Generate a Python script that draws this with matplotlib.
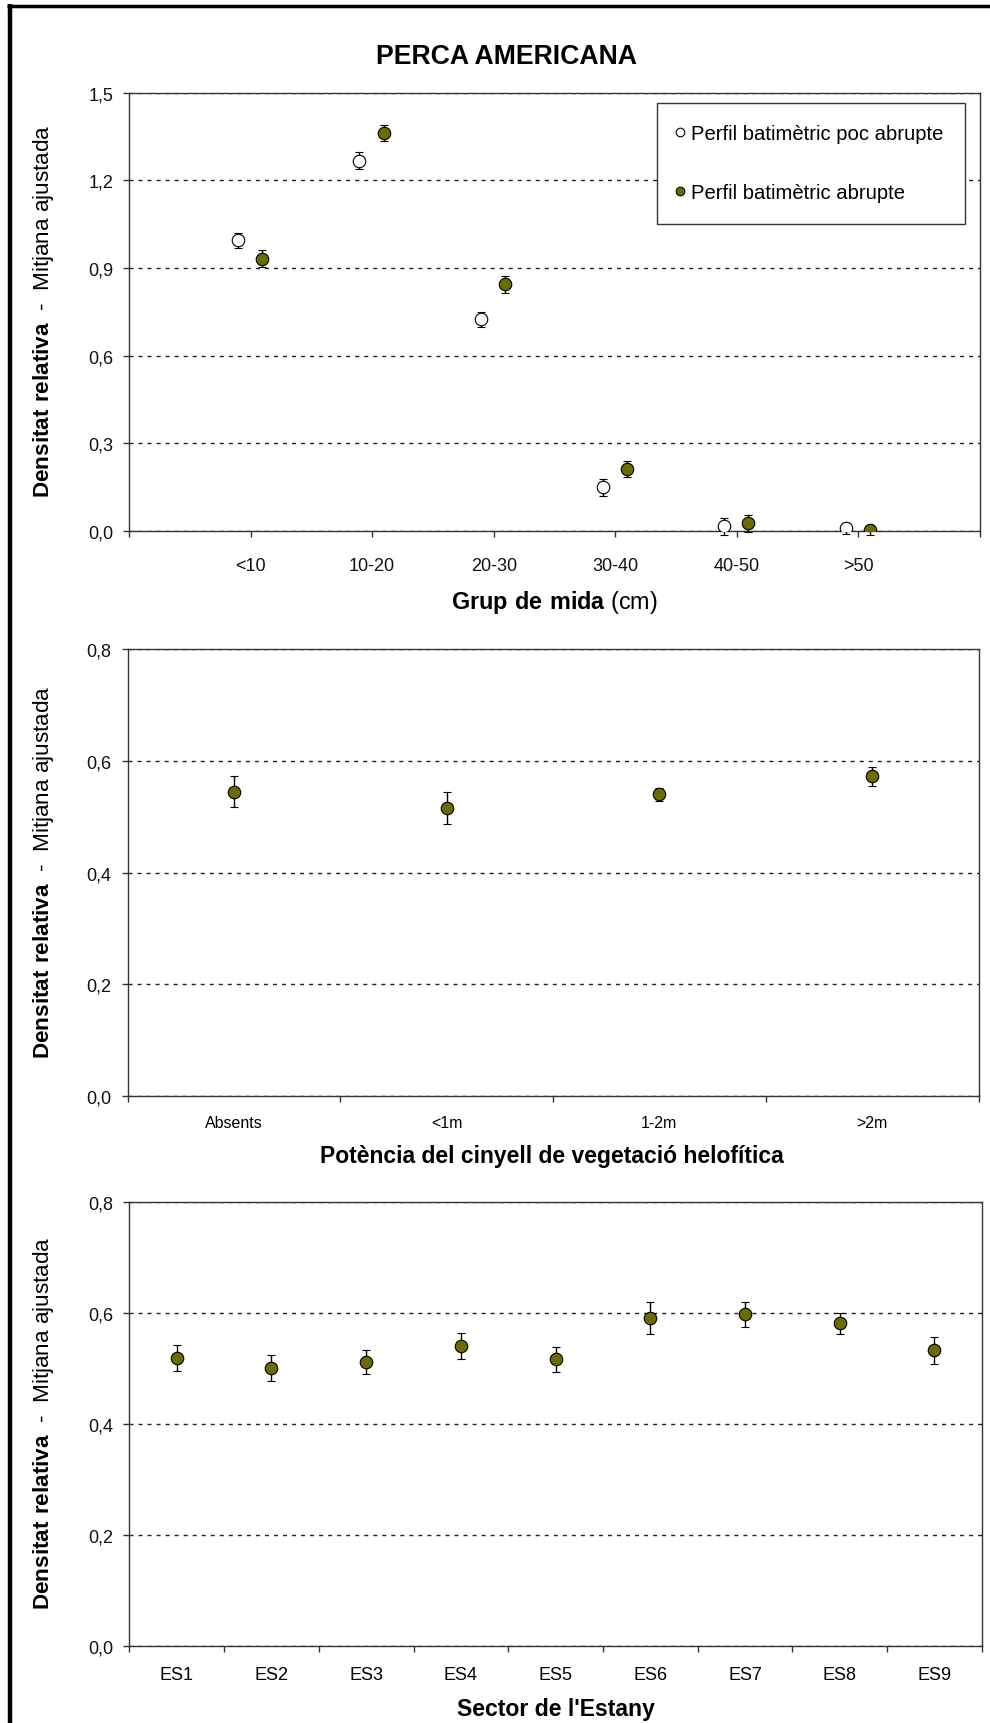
import matplotlib
matplotlib.use('Agg')
import matplotlib.pyplot as plt
from matplotlib.lines import Line2D
import numpy as np

plt.rcParams['font.family'] = ['Liberation Sans', 'DejaVu Sans']
plt.rcParams['mathtext.fontset'] = 'custom'
plt.rcParams['mathtext.rm'] = 'Liberation Sans'
plt.rcParams['mathtext.bf'] = 'Liberation Sans:bold'

# ---------------- data ----------------
size_groups = ['<10', '10-20', '20-30', '30-40', '40-50', '>50']
poc_abrupte = [0.995, 1.267, 0.724, 0.149, 0.016, 0.009]
poc_abrupte_err = [0.026, 0.029, 0.027, 0.029, 0.029, 0.020]
abrupte = [0.931, 1.361, 0.845, 0.212, 0.027, 0.004]
abrupte_err = [0.029, 0.027, 0.029, 0.027, 0.029, 0.018]
legend_labels = ['Perfil batimètric poc abrupte', 'Perfil batimètric abrupte']

veg_cats = ['Absents', '<1m', '1-2m', '>2m']
veg_vals = [0.545, 0.516, 0.540, 0.573]
veg_err = [0.0275, 0.029, 0.0115, 0.017]

sectors = ['ES1', 'ES2', 'ES3', 'ES4', 'ES5', 'ES6', 'ES7', 'ES8', 'ES9']
sector_vals = [0.519, 0.500, 0.511, 0.540, 0.516, 0.590, 0.597, 0.581, 0.532]
sector_err = [0.0236, 0.0236, 0.022, 0.0236, 0.023, 0.0285, 0.0226, 0.019, 0.025]

title = 'PERCA AMERICANA'
ylabel = r'$\mathbf{Densitat\ relativa}$  -  Mitjana ajustada'

# ---------------- style ----------------
W, H = 990, 1724
OLIVE = '#6B6B00'
SPINE = '#333333'
TICK_FS = 13
LABEL_FS = 16.2
MS = 9.0

fig = plt.figure(figsize=(W / 100, H / 100), dpi=100)
fig.patch.set_facecolor('white')


def px_axes(l, t, r, b):
    return fig.add_axes([l / W, 1 - b / H, (r - l) / W, (b - t) / H])


def style(ax):
    for s in ax.spines.values():
        s.set_color(SPINE)
        s.set_linewidth(1.0)
    ax.tick_params(axis='both', direction='out', length=4.5, width=1.0,
                   color=SPINE, labelsize=TICK_FS, labelcolor='#111111')
    ax.tick_params(axis='y', pad=7)
    ax.yaxis.grid(True, color='#222222', linewidth=1.0,
                  linestyle=(0, (2.9, 3.6)))
    ax.set_axisbelow(True)


def fmt_comma(vals, nd=1):
    return [f'{v:.{nd}f}'.replace('.', ',') for v in vals]


eb_kw = dict(fmt='o', ms=MS, mec='black', mew=0.8, ecolor='black',
             elinewidth=1.0, capsize=2.6, capthick=1.0, zorder=3)

# ---------------- panel 1 ----------------
ax1 = px_axes(129, 93.6, 980, 532)
style(ax1)
xc = np.arange(1, len(size_groups) + 1)
e1 = ax1.errorbar(xc - 0.105, poc_abrupte, yerr=poc_abrupte_err, mfc='white', **eb_kw)
e2 = ax1.errorbar(xc + 0.095, abrupte, yerr=abrupte_err, mfc=OLIVE, **eb_kw)
for c in (e1, e2):
    for a in c.lines[1] + c.lines[2]:
        a.set_clip_on(False)
ax1.set_xlim(0, len(size_groups) + 1)
ax1.set_ylim(0, 1.5)
yt1 = [0, 0.3, 0.6, 0.9, 1.2, 1.5]
ax1.set_yticks(yt1)
ax1.set_yticklabels(fmt_comma(yt1))
ax1.set_xticks(np.arange(0, len(size_groups) + 2))
ax1.set_xticklabels([''] + size_groups + [''])
ax1.tick_params(axis='x', pad=14)

handles = [Line2D([], [], ls='none', marker='o', ms=6.2, mfc='white', mec='black', mew=0.8),
           Line2D([], [], ls='none', marker='o', ms=6.2, mfc=OLIVE, mec='black', mew=0.8)]
leg = ax1.legend(handles, legend_labels, loc='upper right',
                 bbox_to_anchor=(965 / W, 1 - 104 / H), bbox_transform=fig.transFigure,
                 frameon=True, fancybox=False, edgecolor=SPINE, framealpha=1,
                 fontsize=14.6, borderpad=1.05, labelspacing=1.97,
                 handlelength=0.2, handletextpad=0.45, borderaxespad=0)
leg.get_frame().set_linewidth(1.0)
leg.set_zorder(5)

# ---------------- panel 2 ----------------
ax2 = px_axes(127.5, 650.4, 978.5, 1096.8)
style(ax2)
x2 = np.arange(len(veg_cats)) + 0.5
ax2.errorbar(x2, veg_vals, yerr=veg_err, mfc=OLIVE, **eb_kw)
ax2.set_xlim(0, len(veg_cats))
ax2.set_ylim(0, 0.8)
yt2 = [0, 0.2, 0.4, 0.6, 0.8]
ax2.set_yticks(yt2)
ax2.set_yticklabels(fmt_comma(yt2))
ax2.set_xticks(np.arange(0, len(veg_cats) + 1))
ax2.set_xticklabels([])
ax2.set_xticks(x2, minor=True)
ax2.set_xticklabels(veg_cats, minor=True)
ax2.tick_params(axis='x', which='minor', length=0, labelsize=11.5, pad=14)

# ---------------- panel 3 ----------------
ax3 = px_axes(129.4, 1202.8, 981.7, 1646.6)
style(ax3)
x3 = np.arange(len(sectors)) + 0.5
ax3.errorbar(x3, sector_vals, yerr=sector_err, mfc=OLIVE, **eb_kw)
ax3.set_xlim(0, len(sectors))
ax3.set_ylim(0, 0.8)
ax3.set_yticks(yt2)
ax3.set_yticklabels(fmt_comma(yt2))
ax3.set_xticks(np.arange(0, len(sectors) + 1))
ax3.set_xticklabels([])
ax3.set_xticks(x3, minor=True)
ax3.set_xticklabels(sectors, minor=True)
ax3.tick_params(axis='x', which='minor', length=0, labelsize=TICK_FS, pad=15)

# ---------------- texts ----------------
def ftxt(x, y, s, **kw):
    fig.text(x / W, 1 - y / H, s, ha='center', va='center', color='black', **kw)


ftxt(507, 57, title, fontsize=19.2, fontweight='bold')
ftxt(44, 311, ylabel, fontsize=LABEL_FS, rotation=90)
ftxt(44, 872, ylabel, fontsize=LABEL_FS, rotation=90)
ftxt(44, 1423, ylabel, fontsize=LABEL_FS, rotation=90)
ftxt(554.6, 602, r'$\mathbf{Grup\ de\ mida}$ (cm)', fontsize=16.8)
ftxt(552, 1157, 'Potència del cinyell de vegetació helofítica', fontsize=16.5, fontweight='bold')
ftxt(555.5, 1709.4, "Sector de l'Estany", fontsize=16.6, fontweight='bold')

# outer frame (top and left edges visible)
fig.add_artist(Line2D([7 / W, 1], [1 - 6.5 / H, 1 - 6.5 / H], transform=fig.transFigure,
                      color='black', lw=2.5, solid_capstyle='butt'))
fig.add_artist(Line2D([9.5 / W, 9.5 / W], [0, 1 - 5 / H], transform=fig.transFigure,
                      color='black', lw=3.2, solid_capstyle='butt'))

fig.savefig('out.png', dpi=100, facecolor='white')
